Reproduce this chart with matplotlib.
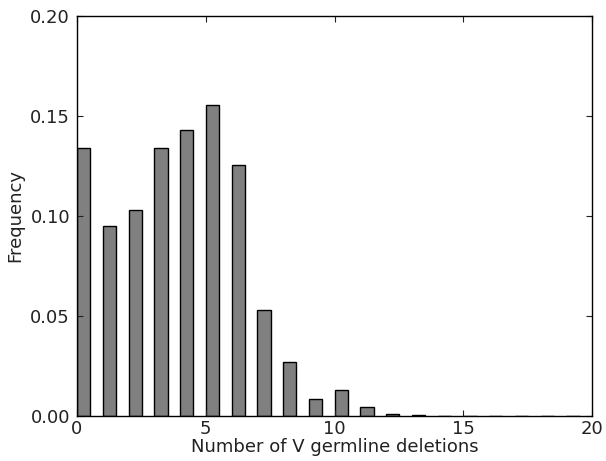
import matplotlib
matplotlib.use("Agg")
import matplotlib.pyplot as plt
import numpy as np

deletions = list(range(20))
frequency = [0.134, 0.095, 0.103, 0.134, 0.143, 0.1555, 0.1255, 0.053, 0.0268,
             0.0085, 0.0128, 0.0047, 0.0012, 0.0005, 0.0002, 0.0001, 0.0001,
             0.00005, 0.00005, 0.00005]
xticks = [0, 5, 10, 15, 20]
yticks = [0.00, 0.05, 0.10, 0.15, 0.20]

fig = plt.figure(figsize=(6.06, 4.61), dpi=100)
ax = fig.add_axes([77/606, 1-416/461, (592-77)/606, (416-16)/461])
ax.bar(deletions, frequency, width=0.52, align='edge', color='0.5',
       edgecolor='black', linewidth=1)
ax.set_xlim(0, 20)
ax.set_ylim(0, 0.20)
ax.set_xticks(xticks)
ax.set_yticks(yticks)
ax.set_yticklabels([f"{v:.2f}" for v in yticks])
ax.tick_params(direction='in', top=True, right=True, labelsize=13, length=4, colors='#222222')
ax.tick_params(axis='x', pad=3)
ax.tick_params(axis='y', pad=5)
ax.set_xlabel("Number of V germline deletions", fontsize=13, labelpad=0, color='#222222')
ax.set_ylabel("Frequency", fontsize=13, color='#222222')
for s in ax.spines.values():
    s.set_linewidth(1)
fig.savefig("out.png", dpi=100)
